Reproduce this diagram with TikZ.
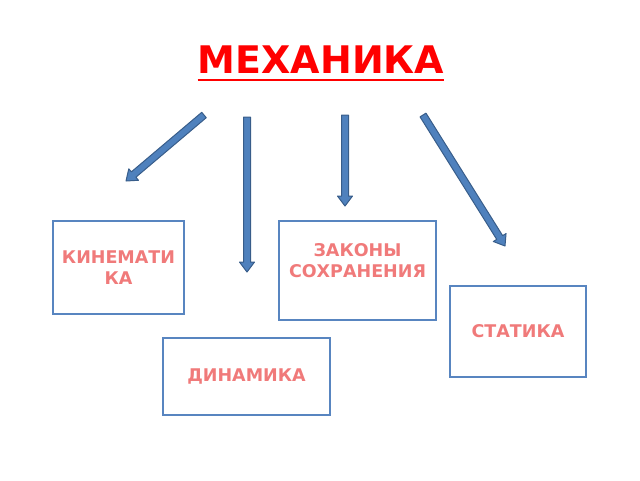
\documentclass[tikz,border=0pt]{standalone}
\usepackage{fontspec}
\setmainfont{DejaVu Sans}
\usetikzlibrary{calc}

\definecolor{arrowfill}{RGB}{79,129,189}
\definecolor{arrowline}{RGB}{56,93,138}
\definecolor{boxline}{RGB}{88,133,192}
\definecolor{salmon}{RGB}{240,122,122}

% block arrow from #1 to #2
\newcommand{\blockarrow}[2]{%
  \coordinate (neck) at ($(#2)!10pt!(#1)$);
  \filldraw[arrow] ($(#1)!3.5pt!90:(#2)$) -- ($(neck)!3.5pt!-90:(#1)$)
    -- ($(neck)!7.5pt!-90:(#1)$) -- (#2) -- ($(neck)!7.5pt!90:(#1)$)
    -- ($(neck)!3.5pt!90:(#1)$) -- ($(#1)!3.5pt!-90:(#2)$) -- cycle;
}

\begin{document}
\begin{tikzpicture}[x=1pt,y=-1pt]
\tikzstyle{box}=[draw=boxline,line width=1.5pt,shape=rectangle,inner sep=0pt];
\tikzstyle{lbl}=[text=salmon,font=\bfseries\fontsize{17.5}{21}\selectfont,align=center];
\tikzstyle{arrow}=[fill=arrowfill,draw=arrowline,line width=1pt,line join=round];
\useasboundingbox (0,0) rectangle (640,480);

\node[anchor=base,inner sep=0pt,text=red,font=\bfseries\fontsize{38}{40}\selectfont] (title) at (321,73) {МЕХАНИКА};
\draw[red,line width=2.5pt] ([yshift=-7pt]title.base west) -- ([yshift=-7pt]title.base east);

% boxes
\node[box,lbl,minimum width=131pt,minimum height=93pt] (kin) at (118.5,267.5) {КИНЕМАТИ\\КА};
\node[box,minimum width=157pt,minimum height=99pt,
  label={[lbl,yshift=10pt]center:ЗАКОНЫ\\СОХРАНЕНИЯ}] (zak) at (357.5,270.5) {};
\node[box,lbl,minimum width=136pt,minimum height=91pt] (stat) at (518,331.5) {СТАТИКА};
\node[box,lbl,minimum width=167pt,minimum height=77pt] (din) at (246.5,376.5) {ДИНАМИКА};

% arrows
\coordinate (t1) at (204,115); \coordinate (h1) at (126,181);
\coordinate (t2) at (247,117); \coordinate (h2) at (247,272);
\coordinate (t3) at (345,115); \coordinate (h3) at (345,206);
\coordinate (t4) at (423,115); \coordinate (h4) at (505,246);
\foreach \i in {1,...,4}{
  \blockarrow{t\i}{h\i}
}
\end{tikzpicture}
\end{document}
